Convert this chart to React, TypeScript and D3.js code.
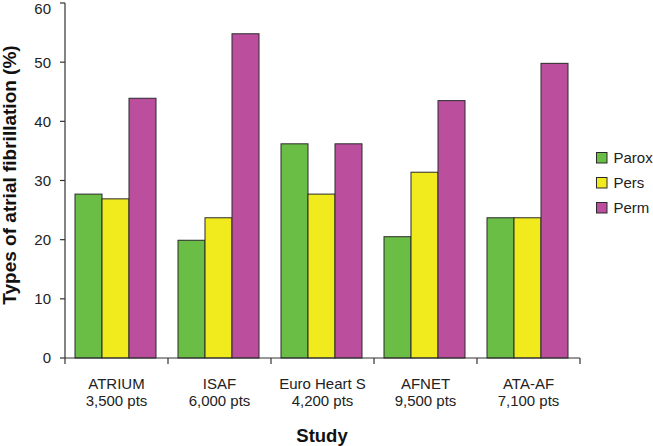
import React from "react";
import * as d3 from "d3";

const studies = ["ATRIUM", "ISAF", "Euro Heart S", "AFNET", "ATA-AF"];
const patients = ["3,500 pts", "6,000 pts", "4,200 pts", "9,500 pts", "7,100 pts"];
const seriesNames = ["Parox", "Pers", "Perm"];
const parox = [27.7, 19.9, 36.2, 20.5, 23.7];
const pers = [26.9, 23.7, 27.7, 31.4, 23.7];
const perm = [43.9, 54.8, 36.2, 43.5, 49.8];
const colors = ["#6abd45", "#f1ea1d", "#bb4f9e"];
const yTicks = [0, 10, 20, 30, 40, 50, 60];

export default function App() {
  const W = 653, H = 446;
  const left = 65, right = 580, top = 3, bottom = 358;
  const x = d3.scaleBand<string>().domain(studies).range([left, right]).paddingInner(0).paddingOuter(0);
  const y = d3.scaleLinear().domain([0, 60]).range([bottom, top]);
  const inner = d3.scaleBand<string>().domain(seriesNames).range([10, x.bandwidth() - 12]).padding(0);
  const values = [parox, pers, perm];
  const font = "'Liberation Sans', Arial, sans-serif";
  const boundaries = [...studies.map((s) => x(s)!), right];
  return (
    <svg width={W} height={H} style={{ position: "absolute", left: 0, top: 0 }} fontFamily={font}>
      <rect width={W} height={H} fill="#fff" />
      {studies.map((s, i) =>
        seriesNames.map((n, j) => (
          <rect
            key={s + n}
            x={x(s)! + inner(n)!}
            y={y(values[j][i])}
            width={inner.bandwidth()}
            height={bottom - y(values[j][i])}
            fill={colors[j]}
            stroke="#2a2a2a"
            strokeWidth={1}
          />
        ))
      )}
      <line x1={left} x2={left} y1={top} y2={bottom} stroke="#333" strokeWidth={1.2} />
      <line x1={left} x2={right} y1={bottom} y2={bottom} stroke="#333" strokeWidth={1.2} />
      {yTicks.map((t) => (
        <g key={t}>
          <line x1={left - 5} x2={left} y1={y(t)} y2={y(t)} stroke="#333" strokeWidth={1.2} />
          <text x={51} y={Math.max(y(t) + 5.4, 13.8)} textAnchor="end" fontSize={15} fill="#222">
            {t}
          </text>
        </g>
      ))}
      {boundaries.map((b, i) => (
        <line key={i} x1={b} x2={b} y1={bottom} y2={bottom + 6} stroke="#333" strokeWidth={1.2} />
      ))}
      {studies.map((s, i) => (
        <g key={s}>
          <text x={x(s)! + x.bandwidth() / 2} y={388.5} textAnchor="middle" fontSize={15} fill="#222">
            {s}
          </text>
          <text x={x(s)! + x.bandwidth() / 2} y={406} textAnchor="middle" fontSize={15} fill="#222">
            {patients[i]}
          </text>
        </g>
      ))}
      <text x={(left + right) / 2 - 0.5} y={442} textAnchor="middle" fontSize={18.5} fontWeight="bold" fill="#111">
        Study
      </text>
      <text
        transform={`translate(9.5, 175) rotate(-90)`}
        textAnchor="middle"
        dy="0.35em"
        fontSize={19}
        fontWeight="bold"
        fill="#111"
      >
        Types of atrial fibrillation (%)
      </text>
      {seriesNames.map((n, j) => (
        <g key={n} transform={`translate(596.5, ${158 + j * 25})`}>
          <rect x={0} y={-5.5} width={10.5} height={10.5} fill={colors[j]} stroke="#2a2a2a" strokeWidth={1} />
          <text x={17} y={0} dy="0.36em" fontSize={15} fill="#222">
            {n}
          </text>
        </g>
      ))}
    </svg>
  );
}
